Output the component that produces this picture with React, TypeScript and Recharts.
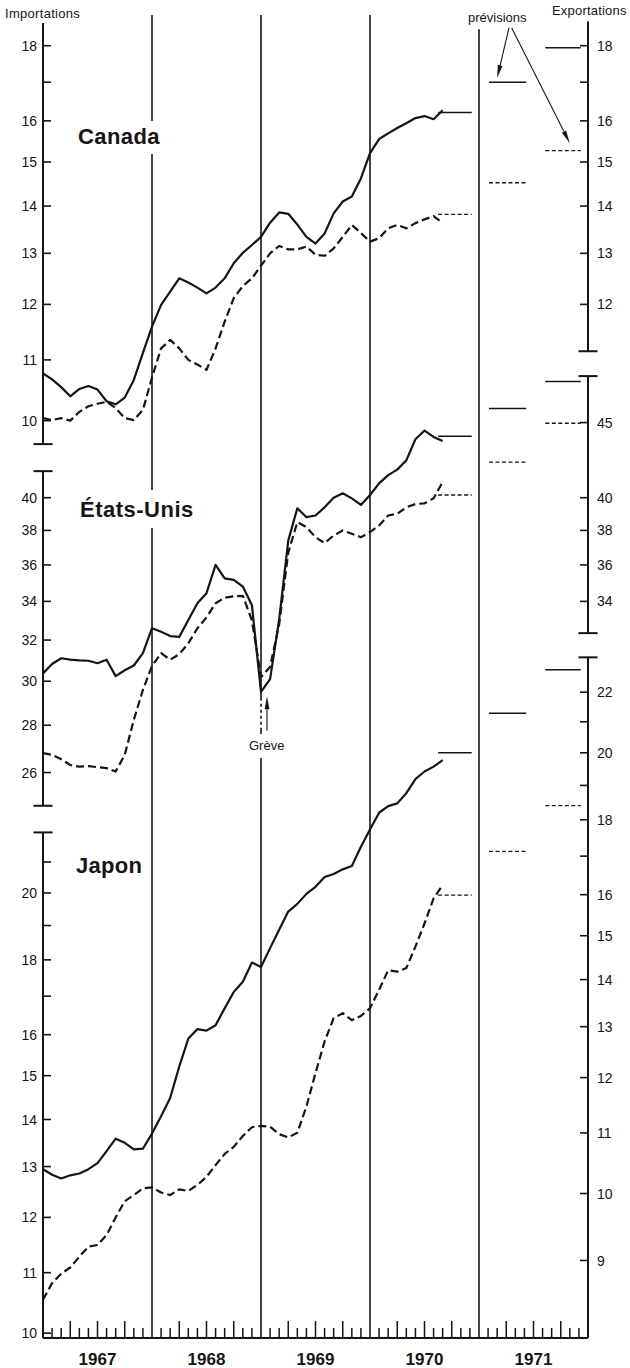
import React from 'react';
import { ComposedChart, Line, XAxis, YAxis, ReferenceLine } from 'recharts';

const WIDTH = 630;
const HEIGHT = 1368;
const PLOT_TOP = 15;
const PLOT_BOTTOM = 1338;
const INK = '#151515';
const FONT = "'Liberation Sans', Arial, Helvetica, sans-serif";
// value axes are drawn by hand, so they take (almost) no room of their own
const AXIS_W = 0.01;

const years = ['1967', '1968', '1969', '1970', '1971'];

// Monthly figures, Jan 1967 - Sep 1970 (milliards de dollars, taux annuel)
const canadaExports = [
  10.77, 10.67, 10.54, 10.39, 10.51, 10.56, 10.5, 10.31, 10.26, 10.37, 10.66, 11.12,
  11.59, 11.99, 12.24, 12.5, 12.42, 12.32, 12.21, 12.32, 12.5, 12.8, 13.01, 13.17,
  13.34, 13.64, 13.86, 13.83, 13.6, 13.34, 13.2, 13.41, 13.84, 14.1, 14.21, 14.62,
  15.21, 15.55, 15.69, 15.82, 15.94, 16.07, 16.12, 16.04, 16.27,
];
const canadaImports = [
  10.04, 10.01, 10.04, 10.0, 10.14, 10.23, 10.27, 10.3, 10.2, 10.04, 10.01, 10.17,
  10.7, 11.2, 11.35, 11.2, 11.0, 10.92, 10.83, 11.2, 11.68, 12.12, 12.35, 12.5,
  12.75, 13.0, 13.15, 13.08, 13.08, 13.14, 12.97, 12.95, 13.1, 13.34, 13.59, 13.42,
  13.24, 13.31, 13.52, 13.59, 13.52, 13.63, 13.71, 13.78, 13.63,
];
const usExports = [
  30.37, 30.82, 31.1, 31.03, 31.0, 30.98, 30.86, 31.03, 30.24, 30.52, 30.75, 31.35,
  32.6, 32.42, 32.2, 32.16, 33.02, 33.9, 34.44, 36.0, 35.25, 35.17, 34.8, 33.8,
  29.5, 30.1, 33.05, 37.4, 39.34, 38.8, 38.9, 39.4, 40.0, 40.28, 39.96, 39.55,
  40.17, 40.91, 41.44, 41.8, 42.41, 43.84, 44.44, 44.0, 43.71,
];
const usImports = [
  26.8, 26.73, 26.55, 26.31, 26.24, 26.26, 26.22, 26.18, 26.04, 26.73, 28.24, 29.6,
  30.73, 31.35, 31.03, 31.3, 31.84, 32.6, 33.16, 33.9, 34.2, 34.27, 34.3, 33.0,
  30.2, 30.68, 32.8, 36.7, 38.5, 38.2, 37.6, 37.25, 37.7, 38.0, 37.8, 37.6,
  37.9, 38.3, 38.9, 39.0, 39.4, 39.6, 39.65, 39.96, 41.0,
];
const japanExports = [
  10.39, 10.3, 10.24, 10.29, 10.32, 10.39, 10.49, 10.69, 10.9, 10.83, 10.72, 10.73,
  10.99, 11.29, 11.62, 12.21, 12.76, 12.95, 12.92, 13.03, 13.38, 13.73, 13.95, 14.38,
  14.28, 14.71, 15.14, 15.58, 15.77, 16.02, 16.2, 16.45, 16.53, 16.65, 16.74, 17.25,
  17.73, 18.2, 18.39, 18.47, 18.77, 19.19, 19.42, 19.57, 19.77,
];
const japanImports = [
  10.54, 10.82, 10.98, 11.09, 11.28, 11.46, 11.49, 11.67, 12.0, 12.31, 12.43, 12.56,
  12.58, 12.48, 12.43, 12.54, 12.51, 12.63, 12.79, 13.03, 13.26, 13.41, 13.64, 13.83,
  13.86, 13.84, 13.68, 13.61, 13.71, 14.29, 15.06, 15.83, 16.42, 16.55, 16.37, 16.48,
  16.68, 17.17, 17.71, 17.67, 17.77, 18.38, 19.06, 19.83, 20.25,
];

// Canada, États-Unis, Japon
const exports1970 = [16.21, 44.05, 20.0];
const imports1970 = [13.82, 40.17, 19.93];
const forecastAExports = [17.0, 46.0, 21.28];
const forecastAImports = [14.52, 42.3, 21.35];
const forecastBExports = [17.94, 48.0, 22.79];
const forecastBImports = [15.27, 44.95, 22.95];

const level1970Span = [43.5, 47.2];
const forecastASpan = [49.1, 53.2];
const forecastBSpan = [55.3, 59.2];

const canadaLeftTicks = [10, 11, 12, 13, 14, 15, 16, 17, 18];
const canadaRightTicks = [12, 13, 14, 15, 16, 17, 18];
const usLeftTicks = [26, 28, 30, 32, 34, 36, 38, 40];
const usRightTicks = [34, 36, 38, 40, 45];
const japanLeftTicks = [10, 11, 12, 13, 14, 15, 16, 17, 18, 19, 20, 21];
const japanRightTicks = [9, 10, 11, 12, 13, 14, 15, 16, 17, 18, 19, 20, 21, 22];
const unlabelledTicks = [17, 19, 21];

const monthTicks = Array.from({ length: 61 }, (_, i) => i);

// log domain that puts value v at pixel row y, with perDecade px per factor ten
const logDomain = (v: number, y: number, perDecade: number): [number, number] => [
  v * 10 ** ((y - PLOT_BOTTOM) / perDecade),
  v * 10 ** ((y - PLOT_TOP) / perDecade),
];

const caDomain = logDomain(10, 420.7, 1469);
const usDomain = logDomain(40, 497.7, 1469);
const jpLeftDomain = logDomain(10, 1333.2, 1462.5);
const jpRightDomain = logDomain(10, 1193.5, 1464);

type Side = 'left' | 'right';

const axes: { id: string; side: Side; domain: [number, number]; ticks: number[] }[] = [
  { id: 'caL', side: 'left', domain: caDomain, ticks: canadaLeftTicks },
  { id: 'caR', side: 'right', domain: caDomain, ticks: canadaRightTicks },
  { id: 'usL', side: 'left', domain: usDomain, ticks: usLeftTicks },
  { id: 'usR', side: 'right', domain: usDomain, ticks: usRightTicks },
  { id: 'jpL', side: 'left', domain: jpLeftDomain, ticks: japanLeftTicks },
  { id: 'jpR', side: 'right', domain: jpRightDomain, ticks: japanRightTicks },
];

// broken axis pieces: [low, high] in axis units, and which ends carry a cap
const axisPieces: { id: string; x: number; lo: number; hi: number; caps: number[] }[] = [
  { id: 'caL', x: 0, lo: 9.64, hi: 18.65, caps: [9.64] },
  { id: 'usL', x: 0, lo: 24.68, hi: 41.7, caps: [24.68, 41.7] },
  { id: 'jpL', x: 0, lo: jpLeftDomain[0], hi: 22.0, caps: [22.0] },
  { id: 'caR', x: 60, lo: 11.15, hi: 18.7, caps: [11.15] },
  { id: 'usR', x: 60, lo: 32.35, hi: 48.4, caps: [32.35, 48.4] },
  { id: 'jpR', x: 60, lo: jpRightDomain[0], hi: 23.24, caps: [23.24] },
];

const toRows = (vals: number[]) => vals.map((v, i) => ({ m: i, v }));
const flat = (v: number, span: number[]) => span.map((m) => ({ m, v }));

const sideTick = (side: Side) => (props: any) => {
  const { x, y, payload } = props;
  const dir = side === 'left' ? 1 : -1;
  const v = payload.value as number;
  return (
    <g>
      <line x1={x} y1={y} x2={x + dir * 8} y2={y} stroke={INK} strokeWidth={1.6} />
      {!unlabelledTicks.includes(v) && (
        <text
          x={side === 'left' ? x - 6 : x + 9}
          y={y}
          dy="0.36em"
          textAnchor={side === 'left' ? 'end' : 'start'}
          fontFamily={FONT}
          fontSize={14}
          fill={INK}
        >
          {v}
        </text>
      )}
    </g>
  );
};

const MonthTick = (props: any) => {
  const { x, y, payload } = props;
  const m = payload.value as number;
  const inYear = m % 12;
  return (
    <g>
      {inYear !== 0 && (
        <line x1={x} x2={x} y1={y} y2={y - (inYear % 3 === 0 ? 17 : 10)} stroke={INK} strokeWidth={1.5} />
      )}
      {inYear === 6 && (
        <text x={x} y={y + 27} textAnchor="middle" fontFamily={FONT} fontWeight="bold" fontSize={17} fill={INK}>
          {years[Math.floor(m / 12)]}
        </text>
      )}
    </g>
  );
};

const Arrow = (props: any) => {
  const { x1, y1, x2, y2 } = props;
  const a = Math.atan2(y2 - y1, x2 - x1);
  const len = 13;
  const half = 2.4;
  const bx = x2 - len * Math.cos(a);
  const by = y2 - len * Math.sin(a);
  const px = -Math.sin(a) * half;
  const py = Math.cos(a) * half;
  return (
    <g>
      <line x1={x1} y1={y1} x2={bx} y2={by} stroke={INK} strokeWidth={1.1} />
      <polygon points={`${x2},${y2} ${bx + px},${by + py} ${bx - px},${by - py}`} fill={INK} />
    </g>
  );
};

const solid = { stroke: INK, strokeWidth: 2.2, strokeLinejoin: 'round' as const };
const dashed = { ...solid, strokeDasharray: '8 4' };
const thinSolid = { stroke: INK, strokeWidth: 1.5 };
const thinDashed = { stroke: INK, strokeWidth: 1.3, strokeDasharray: '4 2.5' };

const panelAxes = [
  { ex: 'caR', im: 'caL', exports: canadaExports, imports: canadaImports },
  { ex: 'usR', im: 'usL', exports: usExports, imports: usImports },
  { ex: 'jpR', im: 'jpL', exports: japanExports, imports: japanImports },
];

const App: React.FC = () => {
  return (
    <div style={{ position: 'absolute', left: 0, top: 0, width: WIDTH, height: HEIGHT, background: '#fff' }}>
      <ComposedChart
        width={WIDTH}
        height={HEIGHT}
        margin={{ top: PLOT_TOP, right: 42 - 3 * AXIS_W, bottom: 0, left: 43 - 3 * AXIS_W }}
      >
        <XAxis
          dataKey="m"
          type="number"
          domain={[0, 60]}
          allowDataOverflow
          ticks={monthTicks}
          interval={0}
          height={HEIGHT - PLOT_BOTTOM}
          tickLine={false}
          tickSize={0}
          tickMargin={0}
          axisLine={{ stroke: INK, strokeWidth: 2 }}
          tick={MonthTick}
        />
        {axes.map((a) => (
          <YAxis
            key={a.id}
            yAxisId={a.id}
            orientation={a.side}
            type="number"
            scale="log"
            domain={a.domain}
            allowDataOverflow
            width={AXIS_W}
            ticks={a.ticks}
            interval={0}
            axisLine={false}
            tickLine={false}
            tickSize={0}
            tickMargin={0}
            tick={sideTick(a.side)}
          />
        ))}

        {/* year separators */}
        {[12, 24, 36].map((m) => (
          <ReferenceLine key={m} yAxisId="caL" x={m} stroke={INK} strokeWidth={1.6} />
        ))}
        <ReferenceLine
          yAxisId="caL"
          segment={[{ x: 48, y: 18.47 }, { x: 48, y: caDomain[0] }]}
          stroke={INK}
          strokeWidth={1.6}
        />
        <ReferenceLine
          yAxisId="usL"
          segment={[{ x: 24, y: 29.1 }, { x: 24, y: 27.76 }]}
          stroke="#fff"
          strokeWidth={3}
          strokeDasharray="3 3"
        />

        {/* broken value axes */}
        {axisPieces.map((p) => (
          <ReferenceLine
            key={`${p.id}-axis`}
            yAxisId={p.id}
            segment={[{ x: p.x, y: p.lo }, { x: p.x, y: p.hi }]}
            stroke={INK}
            strokeWidth={2}
          />
        ))}
        {axisPieces.flatMap((p) =>
          p.caps.map((c) => (
            <ReferenceLine
              key={`${p.id}-${c}`}
              yAxisId={p.id}
              segment={[{ x: p.x - 1.05, y: c }, { x: p.x + 1.05, y: c }]}
              ifOverflow="visible"
              stroke={INK}
              strokeWidth={2}
            />
          )),
        )}

        {panelAxes.map((p, i) => [
          <Line key={`ex${i}`} yAxisId={p.ex} data={toRows(p.exports)} dataKey="v" dot={false} isAnimationActive={false} {...solid} />,
          <Line key={`im${i}`} yAxisId={p.im} data={toRows(p.imports)} dataKey="v" dot={false} isAnimationActive={false} {...dashed} />,
          <Line key={`ex70${i}`} yAxisId={p.ex} data={flat(exports1970[i], level1970Span)} dataKey="v" dot={false} isAnimationActive={false} {...thinSolid} />,
          <Line key={`im70${i}`} yAxisId={p.im} data={flat(imports1970[i], level1970Span)} dataKey="v" dot={false} isAnimationActive={false} {...thinDashed} />,
          <Line key={`exA${i}`} yAxisId={p.ex} data={flat(forecastAExports[i], forecastASpan)} dataKey="v" dot={false} isAnimationActive={false} {...thinSolid} />,
          <Line key={`imA${i}`} yAxisId={p.im} data={flat(forecastAImports[i], forecastASpan)} dataKey="v" dot={false} isAnimationActive={false} {...thinDashed} />,
          <Line key={`exB${i}`} yAxisId={p.ex} data={flat(forecastBExports[i], forecastBSpan)} dataKey="v" dot={false} isAnimationActive={false} {...thinSolid} />,
          <Line key={`imB${i}`} yAxisId={p.im} data={flat(forecastBImports[i], forecastBSpan)} dataKey="v" dot={false} isAnimationActive={false} {...thinDashed} />,
        ])}

        {/* prévisions pointers and the strike arrow */}
        <ReferenceLine yAxisId="caL" segment={[{ x: 51.3, y: 18.51 }, { x: 50.0, y: 17.11 }]} ifOverflow="visible" shape={Arrow} />
        <ReferenceLine yAxisId="caL" segment={[{ x: 51.6, y: 18.51 }, { x: 58.0, y: 15.45 }]} ifOverflow="visible" shape={Arrow} />
        <ReferenceLine yAxisId="usL" segment={[{ x: 24.66, y: 27.76 }, { x: 24.66, y: 29.3 }]} ifOverflow="visible" shape={Arrow} />
      </ComposedChart>

      <svg
        width={WIDTH}
        height={HEIGHT}
        style={{ position: 'absolute', left: 0, top: 0, pointerEvents: 'none' }}
        fontFamily={FONT}
        fill={INK}
      >
        <text x={5} y={18} fontSize={13} letterSpacing={0.3}>Importations</text>
        <text x={552} y={15} fontSize={13} letterSpacing={0.2}>Exportations</text>
        <text x={468} y={22} fontSize={13}>prévisions</text>

        <rect x={74} y={121} width={88} height={33} fill="#fff" />
        <text x={78} y={143.5} fontSize={22} fontWeight="bold" letterSpacing={0.4}>Canada</text>

        <rect x={76} y={490} width={122} height={38} fill="#fff" />
        <text x={80} y={517} fontSize={22} fontWeight="bold" letterSpacing={0.5}>États-Unis</text>

        <text x={76} y={873} fontSize={22} fontWeight="bold" letterSpacing={0.3}>Japon</text>

        <rect x={246} y={734} width={42} height={24} fill="#fff" />
        <text x={249} y={750} fontSize={13}>Grève</text>
      </svg>
    </div>
  );
};

export default App;
